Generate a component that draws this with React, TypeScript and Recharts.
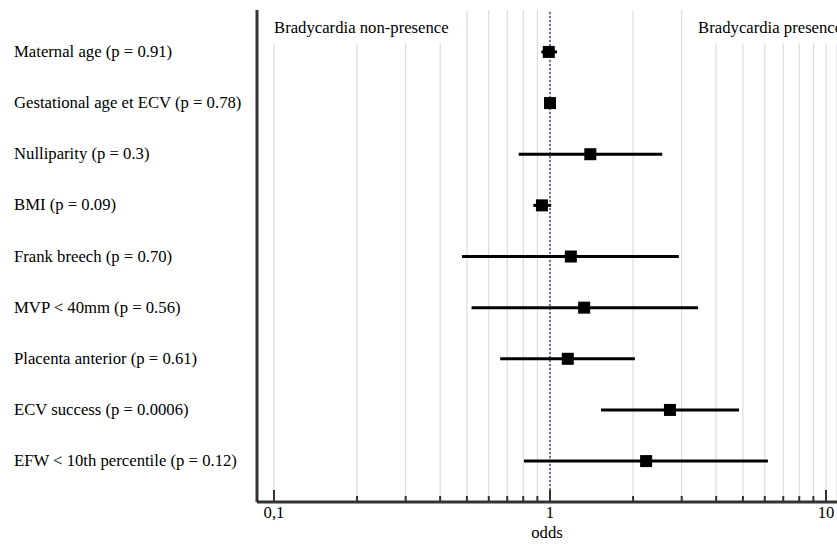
import { ScatterChart, Scatter, XAxis, YAxis, CartesianGrid, ErrorBar, ReferenceLine, ReferenceArea } from 'recharts';

const labels = [
  'Maternal age (p = 0.91)',
  'Gestational age et ECV (p = 0.78)',
  'Nulliparity (p = 0.3)',
  'BMI (p = 0.09)',
  'Frank breech (p = 0.70)',
  'MVP < 40mm (p = 0.56)',
  'Placenta anterior (p = 0.61)',
  'ECV success (p = 0.0006)',
  'EFW < 10th percentile (p = 0.12)',
];
const oddsRatio = [0.99, 1.0, 1.4, 0.935, 1.19, 1.33, 1.16, 2.72, 2.23];
const ciLow = [0.93, 0.97, 0.77, 0.87, 0.48, 0.52, 0.66, 1.53, 0.805];
const ciHigh = [1.06, 1.03, 2.55, 1.01, 2.93, 3.44, 2.03, 4.84, 6.16];

const xTicks = [0.1, 0.2, 0.3, 0.4, 0.5, 0.6, 0.7, 0.8, 0.9, 1, 2, 3, 4, 5, 6, 7, 8, 9, 10];
const majorTicks = [0.1, 1, 10];
const tickText: Record<number, string> = { 0.1: '0,1', 1: '1', 10: '10' };

const FONT = '"Liberation Serif", "Times New Roman", serif';
const FS = 16.7;

const data = labels.map((name, i) => ({
  name,
  row: i,
  or: oddsRatio[i],
  err: [oddsRatio[i] - ciLow[i], ciHigh[i] - oddsRatio[i]],
}));

function XTick(props: any) {
  const { x, y, payload } = props;
  const v = payload.value;
  const major = majorTicks.includes(v);
  return (
    <g>
      <line x1={x} x2={x} y1={y} y2={y - (major ? 12 : 6)} stroke="#333" strokeWidth={2} />
      {major && (
        <text x={x} y={y + 16} textAnchor="middle" fontFamily={FONT} fontSize={FS} fill="#000">
          {tickText[v]}
        </text>
      )}
    </g>
  );
}

function YTick(props: any) {
  const { y, payload } = props;
  return (
    <text x={14} y={y} dy={5} textAnchor="start" fontFamily={FONT} fontSize={FS} fill="#000">
      {labels[payload.value]}
    </text>
  );
}

function Square(props: any) {
  const { cx, cy } = props;
  return <rect x={cx - 6} y={cy - 6} width={12} height={12} fill="#000" />;
}

export default function App() {
  return (
    <div style={{ position: 'absolute', left: 0, top: 0, background: '#fff' }}>
      <ScatterChart width={837} height={548} margin={{ top: 10, right: 0, bottom: 0, left: 0 }}>
        <CartesianGrid horizontal={false} stroke="#d6d6d6" />
        <XAxis
          type="number"
          dataKey="or"
          scale="log"
          domain={[0.0868, 10.96]}
          allowDataOverflow
          ticks={xTicks}
          interval={0}
          tick={<XTick />}
          tickLine={false}
          tickSize={0}
          tickMargin={0}
          axisLine={{ stroke: '#333', strokeWidth: 3 }}
          height={46}
          label={{ value: 'odds', position: 'insideBottom', offset: 10, fontFamily: FONT, fontSize: FS, fill: '#000' }}
        />
        <YAxis
          type="number"
          dataKey="row"
          domain={[-0.82, 8.8]}
          reversed
          allowDataOverflow
          ticks={[0, 1, 2, 3, 4, 5, 6, 7, 8]}
          interval={0}
          tick={<YTick />}
          tickLine={false}
          axisLine={{ stroke: '#333', strokeWidth: 3 }}
          width={257}
        />
        <ReferenceArea
          x1={0.0868}
          x2={0.455}
          y1={-0.82}
          y2={-0.17}
          fill="#fff"
          fillOpacity={1}
          stroke="none"
          label={{ value: 'Bradycardia non-presence', position: 'insideLeft', offset: 17, fontFamily: FONT, fontSize: FS, fill: '#000' }}
        />
        <ReferenceArea
          x1={3.3}
          x2={10.96}
          y1={-0.82}
          y2={-0.17}
          fill="#fff"
          fillOpacity={1}
          stroke="none"
          label={{ value: 'Bradycardia presence', position: 'insideLeft', offset: 5, fontFamily: FONT, fontSize: FS, fill: '#000' }}
        />
        <ReferenceLine x={1} stroke="#4b4b8c" strokeWidth={1.5} strokeDasharray="2 2" />
        <Scatter data={data} shape={<Square />} isAnimationActive={false}>
          <ErrorBar dataKey="err" direction="x" width={0} stroke="#000" strokeWidth={3} />
        </Scatter>
      </ScatterChart>
    </div>
  );
}
